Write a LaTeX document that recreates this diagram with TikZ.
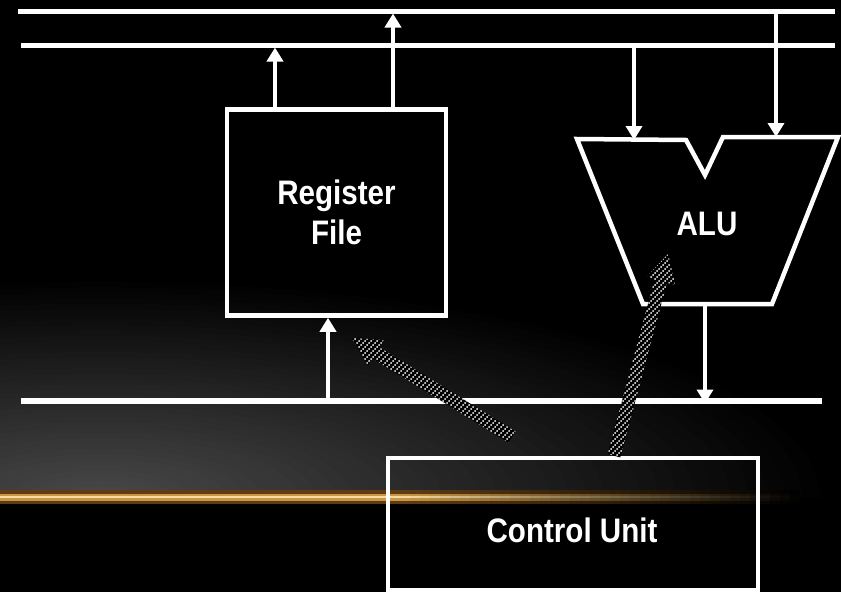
\documentclass[tikz,border=0pt]{standalone}
\usepackage{fontspec}
\newfontfamily\lab{Liberation Sans}[FakeStretch=0.87]
\usetikzlibrary{arrows.meta,patterns,calc}
\definecolor{ob}{RGB}{95,60,20}
\definecolor{om}{RGB}{200,150,70}
\definecolor{oc}{RGB}{245,220,160}
\pgfdeclarepatternformonly{dotlines}{\pgfpoint{-0.1pt}{-0.1pt}}{\pgfpoint{6.1pt}{6.1pt}}{\pgfpoint{6pt}{6pt}}{%
  \pgfpathcircle{\pgfpoint{1pt}{1pt}}{1pt}%
  \pgfpathcircle{\pgfpoint{3pt}{3pt}}{1pt}%
  \pgfpathcircle{\pgfpoint{5pt}{5pt}}{1pt}%
  \pgfusepath{fill}}
\newcommand\hatcharrow[2]{%
  \coordinate (hb) at ($(#2)!28pt!(#1)$);
  \path[hatch] ($(#1)!6.5pt!90:(#2)$) -- ($(hb)!6.5pt!90:(#2)$) -- ($(hb)!15pt!90:(#2)$)
    -- (#2) -- ($(hb)!15pt!-90:(#2)$) -- ($(hb)!6.5pt!-90:(#2)$) -- ($(#1)!6.5pt!-90:(#2)$) -- cycle;}
\begin{document}
\begin{tikzpicture}[x=1pt,y=-1pt,
  bus/.style={draw=white,line width=5pt},
  arr/.style={draw=white,line width=4.5pt,-{Triangle[width=16pt,length=14pt]}},
  box/.style={draw=white,line width=4.5pt,inner sep=0pt},
  lbl/.style={text=white,font=\lab\bfseries\fontsize{34}{40}\selectfont,align=center},
  hatch/.style={preaction={fill=black},pattern=dotlines,pattern color=white}]
\fill[black] (0,0) rectangle (841,592);
\useasboundingbox (0,0) rectangle (841,592);
% background glow
\begin{scope}
  \clip (0,200) rectangle (841,497);
  \foreach \i in {1,...,40} {
    \pgfmathsetmacro\g{0.28*\i/40}
    \pgfmathsetmacro\r{1-(\i-1)/40}
    \definecolor{tmpg}{gray}{\g}
    \fill[tmpg] (100,497) ellipse [x radius=720*\r, y radius=215*\r];
  }
\end{scope}
% orange line: solid part
\fill[ob] (0,490) rectangle (400.3,504);
\fill[om] (0,493.5) rectangle (400.3,500.5);
\fill[oc] (0,495.8) rectangle (400.3,498.2);
% orange line: fading part
\foreach \j in {1,...,40} {
  \pgfmathsetmacro\p{100*(1-(\j-0.5)/40)}
  \pgfmathsetmacro\xa{400+(\j-1)*10}
  \pgfmathsetmacro\xb{400+\j*10+0.3}
  \colorlet{tb}{ob!\p!black}
  \colorlet{tm}{om!\p!black}
  \colorlet{tc}{oc!\p!black}
  \fill[tb] (\xa,490) rectangle (\xb,504);
  \fill[tm] (\xa,493.5) rectangle (\xb,500.5);
  \fill[tc] (\xa,495.8) rectangle (\xb,498.2);
}
% buses
\coordinate (b1l) at (18,11);  \coordinate (b1r) at (835,11);
\coordinate (b2l) at (21,45);  \coordinate (b2r) at (835,45);
\coordinate (b3l) at (21,401); \coordinate (b3r) at (822,401);
\draw[bus] (b1l) -- (b1r);
\draw[bus] (b2l) -- (b2r);
\draw[bus,line width=5.5pt] (b3l) -- (b3r);
% register file
\node[box,minimum width=219pt,minimum height=206pt,lbl] (rf) at (336.5,212.5) {Register\\File};
\coordinate (rfo1) at (275,45);
\coordinate (rfo2) at (393,11);
\coordinate (rfi) at (328,401);
\draw[arr] (rf.north -| rfo1) -- ([yshift=-2.5pt]rfo1);
\draw[arr] (rf.north -| rfo2) -- ([yshift=-2.5pt]rfo2);
\draw[arr] (rfi) -- (rf.south -| rfi);
% ALU
\coordinate (a1) at (577,139);
\coordinate (a2) at (686,140);
\coordinate (a3) at (705,175);
\coordinate (a4) at (723,137);
\coordinate (a5) at (838,137);
\coordinate (a6) at (772,304);
\coordinate (a7) at (643,304);
\draw[white,line width=4.5pt,line join=miter] (a1) -- (a2) -- (a3) -- (a4) -- (a5) -- (a6) -- (a7) -- cycle;
\node[lbl] (alu) at (707,224) {ALU};
\coordinate (ai1) at (634,45);
\coordinate (ai2) at (776,11);
\coordinate (ao) at (705,304);
\draw[arr] (ai1) -- (ai1 |- a2);
\draw[arr] (ai2) -- (ai2 |- a5);
\draw[arr] (ao) -- ([yshift=-2.5pt]ao |- b3l);
% control unit
\node[box,minimum width=370pt,minimum height=132pt] (cu) at (573,524) {};
\node[lbl] (cut) at (572,530) {Control Unit};
% control arrows
\coordinate (x614) at (614,0);
\coordinate (t1) at (512,437);
\coordinate (h1) at (352,338);
\coordinate (t2) at (cu.north -| x614);
\coordinate (h2) at (668,254);
\hatcharrow{t1}{h1}
\hatcharrow{t2}{h2}
\end{tikzpicture}
\end{document}
